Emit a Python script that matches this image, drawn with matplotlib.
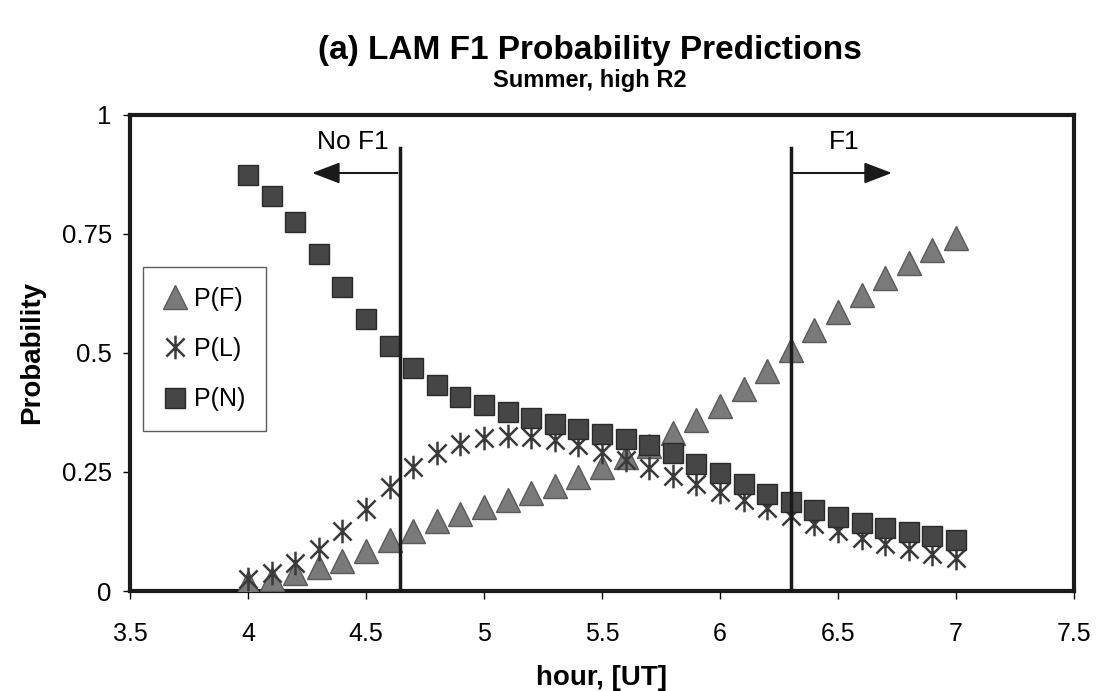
import numpy as np
import matplotlib
matplotlib.use("Agg")
import matplotlib.pyplot as plt
from matplotlib.path import Path

plt.rcParams['font.family'] = ['Liberation Sans', 'DejaVu Sans']

hours = [4.0, 4.1, 4.2, 4.3, 4.4, 4.5, 4.6, 4.7, 4.8, 4.9, 5.0, 5.1, 5.2, 5.3, 5.4, 5.5,
         5.6, 5.7, 5.8, 5.9, 6.0, 6.1, 6.2, 6.3, 6.4, 6.5, 6.6, 6.7, 6.8, 6.9, 7.0]
p_f = [0.017, 0.025, 0.038, 0.050, 0.063, 0.084, 0.107, 0.126, 0.147, 0.162, 0.176, 0.191,
       0.206, 0.220, 0.240, 0.260, 0.282, 0.305, 0.332, 0.360, 0.389, 0.424, 0.462, 0.506,
       0.548, 0.586, 0.622, 0.658, 0.689, 0.716, 0.742]
p_l = [0.025, 0.038, 0.059, 0.088, 0.126, 0.172, 0.218, 0.260, 0.290, 0.309, 0.321, 0.326,
       0.324, 0.317, 0.307, 0.292, 0.275, 0.258, 0.242, 0.225, 0.208, 0.191, 0.174, 0.158,
       0.141, 0.126, 0.111, 0.099, 0.088, 0.078, 0.069]
p_n = [0.874, 0.830, 0.775, 0.708, 0.639, 0.571, 0.515, 0.468, 0.433, 0.408, 0.391, 0.376,
       0.363, 0.351, 0.340, 0.330, 0.319, 0.307, 0.290, 0.267, 0.248, 0.225, 0.204, 0.187,
       0.170, 0.155, 0.143, 0.132, 0.124, 0.116, 0.107]

x_ticks = [3.5, 4, 4.5, 5, 5.5, 6, 6.5, 7, 7.5]
x_tick_labels = ['3.5', '4', '4.5', '5', '5.5', '6', '6.5', '7', '7.5']
y_ticks = [0, 0.25, 0.5, 0.75, 1]
y_tick_labels = ['0', '0.25', '0.5', '0.75', '1']

no_f1_hour = 4.645
f1_hour = 6.3

fig = plt.figure(figsize=(11.01, 6.91), dpi=100)
ax = fig.add_axes([0.118, 0.1447, 0.8575, 0.689])

# asterisk marker: X plus vertical line
star_path = Path([(-1, -1), (1, 1), (-1, 1), (1, -1), (0, -1.3), (0, 1.3)],
                 [Path.MOVETO, Path.LINETO, Path.MOVETO, Path.LINETO, Path.MOVETO, Path.LINETO])

ax.plot(hours, p_f, linestyle='none', marker='^', markersize=17, color='#7a7a7a',
        markeredgecolor='#5a5a5a', markeredgewidth=1, label='P(F)', zorder=3)
ax.plot(hours, p_l, linestyle='none', marker=star_path, markersize=17, color='#3a3a3a',
        markeredgewidth=1.8, label='P(L)', zorder=3)
ax.plot(hours, p_n, linestyle='none', marker='s', markersize=14, color='#464646',
        markeredgecolor='#2a2a2a', markeredgewidth=1, label='P(N)', zorder=4)

ax.set_xlim(3.5, 7.5)
ax.set_ylim(0, 1)
ax.set_xticks(x_ticks)
ax.set_xticklabels(x_tick_labels)
ax.set_yticks(y_ticks)
ax.set_yticklabels(y_tick_labels)
ax.tick_params(axis='x', labelsize=18, direction='out', length=6, width=1, pad=16)
ax.tick_params(axis='y', labelsize=18.5, direction='out', length=5, width=1, pad=8)

for s in ax.spines.values():
    s.set_linewidth(3)
    s.set_color('#1a1a1a')

# threshold lines
ax.plot([no_f1_hour, no_f1_hour], [0, 0.93], color='#1a1a1a', lw=2.5, zorder=5)
ax.plot([f1_hour, f1_hour], [0, 0.93], color='#1a1a1a', lw=2.5, zorder=5)

ax.annotate('', xy=(4.26, 0.878), xytext=(no_f1_hour, 0.878),
            arrowprops=dict(arrowstyle='-|>,head_length=1.7,head_width=0.65', color='#1a1a1a', lw=1.5))
ax.annotate('', xy=(6.74, 0.878), xytext=(f1_hour, 0.878),
            arrowprops=dict(arrowstyle='-|>,head_length=1.7,head_width=0.65', color='#1a1a1a', lw=1.5))
ax.text(4.445, 0.943, 'No F1', ha='center', va='center', fontsize=19)
ax.text(6.525, 0.943, 'F1', ha='center', va='center', fontsize=19)

ax.set_xlabel('hour, [UT]', fontsize=20, fontweight='bold', labelpad=14)
ax.set_ylabel('Probability', fontsize=20, fontweight='bold', labelpad=12)

fig.text(0.536, 0.927, '(a) LAM F1 Probability Predictions', ha='center', va='center',
         fontsize=24, fontweight='bold')
fig.text(0.536, 0.883, 'Summer, high R2', ha='center', va='center',
         fontsize=17, fontweight='bold')

leg = ax.legend(loc='upper left', bbox_to_anchor=(0.0138, 0.681), fontsize=18, frameon=True,
                fancybox=False, edgecolor='#333333', handlelength=1.0, handletextpad=0.25,
                borderpad=0.8, labelspacing=1.05, markerscale=1.0, borderaxespad=0)
leg.get_frame().set_linewidth(1)

fig.savefig('out.png', dpi=100, facecolor='white')
